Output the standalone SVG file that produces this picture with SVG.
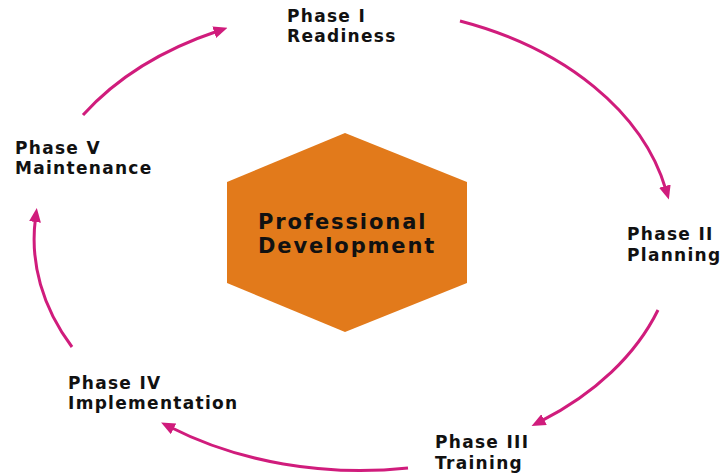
<svg xmlns="http://www.w3.org/2000/svg" width="722" height="474" viewBox="0 0 722 474">
<defs>
<style>
.lbl{font-family:"DejaVu Sans","Liberation Sans",sans-serif;font-weight:bold;font-size:17px;letter-spacing:1.3px;fill:#111;}
.ctr{font-family:"DejaVu Sans","Liberation Sans",sans-serif;font-weight:bold;font-size:21px;letter-spacing:1.9px;fill:#111;}
.arc{fill:none;stroke:#d01c7c;stroke-width:3;marker-end:url(#ah);}
</style>
<marker id="ah" markerUnits="userSpaceOnUse" markerWidth="14" markerHeight="12" viewBox="0 0 14 12" refX="4" refY="6" orient="auto">
<path d="M0,0 L14,6 L0,12 z" fill="#d01c7c"/>
</marker>
</defs>
<rect width="722" height="474" fill="#fff"/>
<g id="connectors">
<path class="arc" d="M83,115 A325,230 0 0 1 218,31"/>
<path class="arc" d="M460,21 A325,230 0 0 1 666,190"/>
<path class="arc" d="M658,310 A325,230 0 0 1 540.5,421.4"/>
<path class="arc" d="M408,468 A325,230 0 0 1 170,427"/>
<path class="arc" d="M72,347 A325,230 0 0 1 35.5,218"/>
</g>
<g id="center">
<polygon points="345,133 467,182 467,283 345,332 227,283 227,182" fill="#e27a1b"/>
<text class="ctr" x="258" y="229">Professional</text>
<text class="ctr" x="258" y="253">Development</text>
</g>
<g id="phase1">
<text class="lbl" x="287" y="22">Phase I</text>
<text class="lbl" x="287" y="42">Readiness</text>
</g>
<g id="phase2">
<text class="lbl" x="627" y="240">Phase II</text>
<text class="lbl" x="627" y="261">Planning</text>
</g>
<g id="phase3">
<text class="lbl" x="435" y="448">Phase III</text>
<text class="lbl" x="435" y="469">Training</text>
</g>
<g id="phase4">
<text class="lbl" x="68" y="389">Phase IV</text>
<text class="lbl" x="68" y="409">Implementation</text>
</g>
<g id="phase5">
<text class="lbl" x="15" y="154">Phase V</text>
<text class="lbl" x="15" y="174">Maintenance</text>
</g>
</svg>
